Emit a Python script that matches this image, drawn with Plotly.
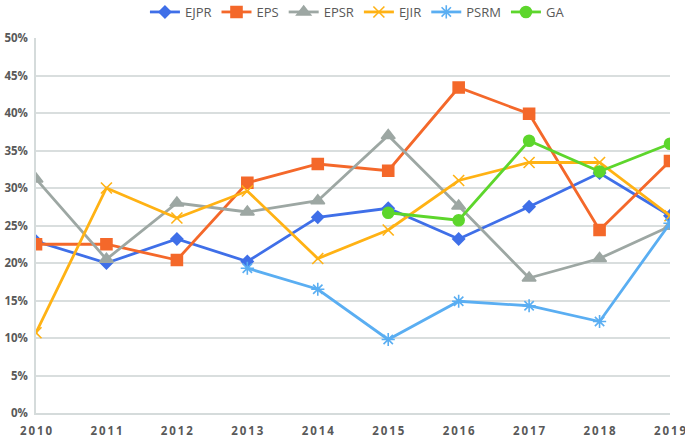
import plotly.graph_objects as go

years = [2010, 2011, 2012, 2013, 2014, 2015, 2016, 2017, 2018, 2019]

EJPR = [22.9, 20.0, 23.2, 20.2, 26.1, 27.3, 23.2, 27.5, 32.0, 26.3]
EPS = [22.5, 22.5, 20.4, 30.7, 33.2, 32.3, 43.4, 39.9, 24.4, 33.6]
EPSR = [31.2, 20.5, 28.0, 26.8, 28.3, 37.0, 27.6, 18.0, 20.6, 24.9]
EJIR = [10.7, 30.0, 26.0, 29.6, 20.6, 24.4, 31.0, 33.4, 33.4, 26.3]
PSRM = [None, None, None, 19.3, 16.5, 9.8, 14.9, 14.3, 12.2, 25.3]
GA = [None, None, None, None, None, 26.7, 25.7, 36.3, 32.2, 35.9]

y_ticks = [0, 5, 10, 15, 20, 25, 30, 35, 40, 45, 50]
y_labels = [f"{v}%" for v in y_ticks]
x_labels = ["\u2009".join(str(y)) for y in years]

series = [
    ("EJPR", EJPR, "#3F6FE8", "diamond", 9),
    ("EPS", EPS, "#F4682A", "square", 11),
    ("EPSR", EPSR, "#9DA7A3", "triangle-up", 12),
    ("EJIR", EJIR, "#FFB214", "x-thin-open", 11),
    ("PSRM", PSRM, "#5AAEF2", "asterisk-open", 11),
    ("GA", GA, "#5DD62C", "circle", 11),
]

fig = go.Figure()
for name, vals, color, sym, size in series:
    fig.add_trace(go.Scatter(
        x=years, y=vals, name=name, mode="lines+markers",
        line=dict(color=color, width=2.8),
        marker=dict(symbol=sym, size=size, color=color,
                    line=dict(color=color, width=1.6)),
        connectgaps=False,
    ))

fig.update_layout(
    width=685, height=439,
    margin=dict(l=36, r=15, t=38, b=26, autoexpand=False),
    paper_bgcolor="white", plot_bgcolor="white",
    showlegend=True,
    legend=dict(orientation="h", x=0.507, xanchor="center",
                y=1 - 12 / 439, yanchor="middle", yref="container",
                font=dict(family="Open Sans", size=13, color="#595959"),
                tracegroupgap=0),
    font=dict(family="Open Sans", color="#595959"),
)

fig.update_xaxes(
    range=[2010, 2019], tickvals=years, ticktext=x_labels,
    showgrid=False, zeroline=False, showline=True, linecolor="#D5DBDB", linewidth=1.5,
    tickfont=dict(family="Open Sans", size=11.5, color="#595959", weight="bold"),
    ticks="", ticklabelstandoff=6, ticklabeloverflow="allow",
)
fig.update_yaxes(
    range=[0, 50], tickvals=y_ticks, ticktext=y_labels,
    showgrid=True, gridcolor="#D9DEDE", gridwidth=1.5,
    zeroline=False, showline=True, linecolor="#D5DBDB", linewidth=1.5,
    tickfont=dict(family="Open Sans", size=11.5, color="#595959", weight="bold"),
    ticks="", ticklabelstandoff=4, ticklabeloverflow="allow",
)

fig.write_html("out.html", config={"displayModeBar": False},
               post_script="document.body.style.margin='0';document.body.style.overflow='hidden';")
